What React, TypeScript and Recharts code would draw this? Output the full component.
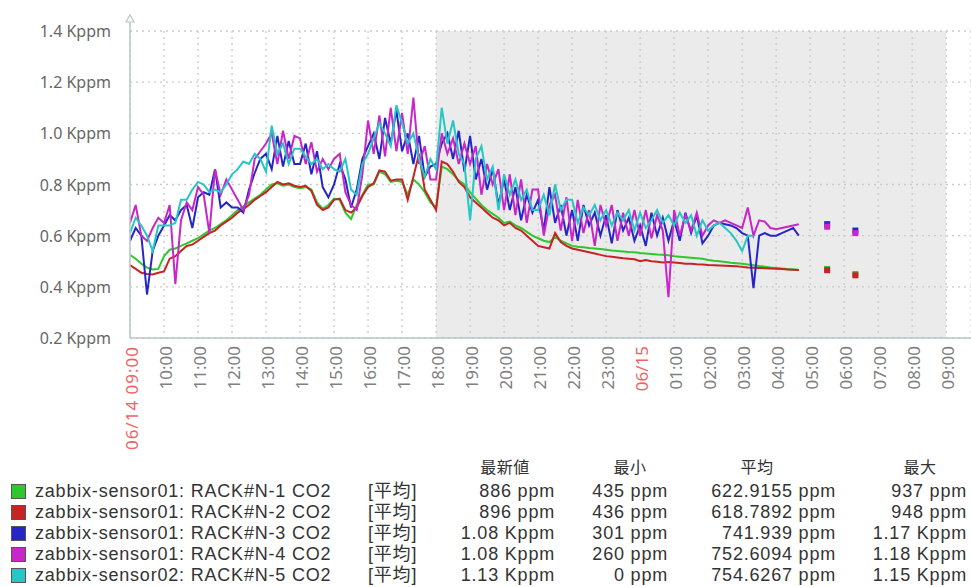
import React from "react";
import { ComposedChart, Line, XAxis, YAxis, CartesianGrid } from "recharts";

// ---- data (ppm), one value every 10 minutes starting 06/14 09:00 ----
const stepHours = 1 / 6;

const n1Green = [
  525, 510, 490, 475, 468, 470,
  520, 545, 550, 560, 570, 580,
  590, 605, 620, 630, 645, 660,
  680, 700, 715, 730, 745, 760,
  780, 800, 805, 795, 800, 790,
  785, 790, 780, 730, 705, 720,
  745, 740, 690, 665, 720, 760,
  800, 800, 850, 840, 810, 815,
  810, 760, 820, 800, 770, 730,
  710, 870, 860, 840, 815, 800,
  770, 745, 720, 700, 685, 670,
  650, 655, 640, 630, 615, 600,
  590, 580, 575, 595, 580, 570,
  560, 557, 555, 552, 550, 548,
  545, 542, 540, 538, 536, 535,
  532, 530, 528, 526, 525, 523,
  520, 518, 516, 514, 512, 510,
  505, 502, 500, 497, 494, 492,
  490, 487, 484, 481, 479, 476,
  474, 472, 470, 468, 466,
];

const n2Red = [
  485, 470, 455, 450, 448, 455,
  460, 510, 520, 540, 560, 565,
  580, 595, 610, 620, 640, 655,
  670, 690, 705, 720, 740, 755,
  770, 790, 810, 800, 805, 795,
  790, 795, 775, 720, 700, 710,
  740, 745, 700, 690, 710, 755,
  790, 805, 855, 850, 815, 820,
  820, 740, 830, 920, 780, 740,
  700, 890, 880, 850, 810, 790,
  750, 730, 710, 690, 670, 660,
  640, 650, 630, 620, 600, 580,
  560, 555, 550, 610, 575, 560,
  550, 545, 540, 535, 530, 525,
  520, 518, 515, 512, 510, 508,
  500, 505, 500, 498, 495, 497,
  495, 493, 490, 490, 488, 487,
  485, 484, 483, 482, 481, 480,
  478, 476, 475, 474, 473, 472,
  471, 470, 468, 467, 466,
];

const n3Blue = [
  580, 630, 600, 370, 540, 600,
  640, 680, 660, 700, 720, 630,
  750, 770, 760, 860, 710, 730,
  710, 710, 690, 780, 845, 900,
  920, 860, 990, 870, 970, 880,
  880, 960, 840, 930, 790, 750,
  800, 880, 820, 710, 780, 900,
  950, 1000, 900, 1060, 960, 1090,
  930, 1000, 880, 990, 830, 870,
  880, 960, 1000, 900, 1010, 850,
  990, 820, 900, 780, 860, 720,
  820, 700, 790, 660, 760, 690,
  740, 620, 790, 650, 720, 600,
  700, 580, 720, 640, 690, 600,
  680, 570, 700, 620, 670, 580,
  640, 560, 690, 600, 670, 580,
  660, 580, 690, 610, 680, 570,
  600, 640, 650, 645, 640, 630,
  610, 600, 395, 600, 610, 600,
  600, 610, 620, 630, 600,
];

const n4Magenta = [
  650, 720, 600, 580, 630, 670,
  650, 720, 410, 660, 730, 700,
  790, 760, 610, 860, 760, 820,
  780, 740, 700, 760, 900, 930,
  960, 1000, 880, 1010, 900, 990,
  980, 880, 965, 850, 900, 860,
  900, 920, 770, 720, 700, 840,
  1050, 920, 1070, 910, 1100, 930,
  1080, 920, 1140, 880, 950, 820,
  820, 1000, 920, 980, 880, 960,
  880, 950, 760, 880, 800, 860,
  700, 840, 680, 820, 650, 780,
  780, 600, 720, 760, 620, 750,
  580, 740, 610, 700, 560, 720,
  640, 720, 580, 690, 600, 700,
  600, 700, 590, 680, 620, 360,
  700, 600, 680, 620, 690, 600,
  640, 660, 650, 660, 650, 640,
  630, 710, 600, 660, 655, 630,
  625, 630, 635, 640, 645,
];

const n5Cyan = [
  610, 670, 640, 600, 540, 640,
  640, 640, 650, 740, 740, 780,
  810, 800, 770, 780, 770, 800,
  840, 860, 890, 880, 920, 900,
  850, 1030, 920, 960, 880, 940,
  940, 910, 880, 900, 860, 880,
  860, 850, 900, 780, 760, 880,
  920, 980, 1040, 1000, 950, 1110,
  1040, 960, 1000, 900, 830, 900,
  860, 1100, 960, 1050, 920, 880,
  660, 900, 950, 820, 870, 700,
  840, 760, 820, 740, 780, 700,
  700, 760, 680, 800, 700, 740,
  740, 650, 710, 680, 720, 660,
  700, 640, 690, 660, 700, 620,
  690, 630, 660, 700, 650, 680,
  640, 690, 650, 680, 600, 660,
  620, 640, 650, 630, 610, 580,
  540, 600, 600,
];

// isolated single samples after the gap
const isoHours = [20.5, 21.33];
const isoGreen = [470, 450];
const isoRed = [465, 445];
const isoBlue = [645, 620];
const isoMagenta = [635, 610];

// ---- axes ----
const xTicks = Array.from({ length: 25 }, (_, i) => i);
const xTickLabels = [
  "06/14 09:00", "10:00", "11:00", "12:00", "13:00", "14:00", "15:00", "16:00",
  "17:00", "18:00", "19:00", "20:00", "21:00", "22:00", "23:00", "06/15",
  "01:00", "02:00", "03:00", "04:00", "05:00", "06:00", "07:00", "08:00", "09:00",
];
const yTicks = [200, 400, 600, 800, 1000, 1200, 1400];
const yTickLabels = ["0.2 Kppm", "0.4 Kppm", "0.6 Kppm", "0.8 Kppm", "1.0 Kppm", "1.2 Kppm", "1.4 Kppm"];

// ---- legend table ----
const seriesNames = [
  "zabbix-sensor01: RACK#N-1 CO2",
  "zabbix-sensor01: RACK#N-2 CO2",
  "zabbix-sensor01: RACK#N-3 CO2",
  "zabbix-sensor01: RACK#N-4 CO2",
  "zabbix-sensor02: RACK#N-5 CO2",
];
const seriesKeys = ["n1", "n2", "n3", "n4", "n5"];
const seriesColors = ["#2DC82D", "#C82222", "#2626C8", "#C826C8", "#26C6C6"];
const legendFunc = "[平均]";
const legendHeaders = ["最新値", "最小", "平均", "最大"];
const lastValues = ["886 ppm", "896 ppm", "1.08 Kppm", "1.08 Kppm", "1.13 Kppm"];
const minValues = ["435 ppm", "436 ppm", "301 ppm", "260 ppm", "0 ppm"];
const avgValues = ["622.9155 ppm", "618.7892 ppm", "741.939 ppm", "752.6094 ppm", "754.6267 ppm"];
const maxValues = ["937 ppm", "948 ppm", "1.17 Kppm", "1.18 Kppm", "1.15 Kppm"];

// ---- build table ----
type Row = { h: number; iso?: boolean; n1: number | null; n2: number | null; n3: number | null; n4: number | null; n5: number | null };
const rows: Row[] = [];
for (let k = 0; k < n1Green.length; k++) {
  rows.push({
    h: k * stepHours,
    n1: n1Green[k] ?? null,
    n2: n2Red[k] ?? null,
    n3: n3Blue[k] ?? null,
    n4: n4Magenta[k] ?? null,
    n5: n5Cyan[k] ?? null,
  });
}
isoHours.forEach((h, i) => {
  rows.push({ h: h - 0.5, n1: null, n2: null, n3: null, n4: null, n5: null });
  rows.push({ h, iso: true, n1: isoGreen[i], n2: isoRed[i], n3: isoBlue[i], n4: isoMagenta[i], n5: null });
});

// stripes between hour grid lines: white during day (09-18), grey at night
const stripeFill = xTicks.map((t) => (t >= 9 && t < 24 ? "#EBEBEB" : "#FFFFFF"));

const FONT = "'Noto Sans', 'Noto Sans CJK JP', sans-serif";
const LEGEND_FONT = "'Liberation Sans', 'Noto Sans CJK JP', sans-serif";

const XTick = (props: any) => {
  const { x, y, payload } = props;
  const idx = xTicks.indexOf(payload.value);
  const label = xTickLabels[idx] ?? "";
  const red = label.includes("/");
  return (
    <text
      x={x + 1}
      y={y}
      transform={`rotate(-90 ${x + 1} ${y})`}
      textAnchor="end"
      dominantBaseline="central"
      fontSize={17}
      letterSpacing={red && label.length > 6 ? 1 : 0}
      fontFamily={FONT}
      fill={red ? "#EE6464" : "#808080"}
    >
      {label}
    </text>
  );
};

const YTick = (props: any) => {
  const { x, y, payload } = props;
  const idx = yTicks.indexOf(payload.value);
  return (
    <text x={x} y={y} textAnchor="end" dominantBaseline="central" fontSize={16} fontFamily={FONT} fill="#666">
      {yTickLabels[idx]}
    </text>
  );
};

const AxisArrow = (props: any) => {
  const vb = props.viewBox || {};
  const ax = (vb.x ?? 0) + (vb.width ?? 0);
  const top = vb.y ?? 0;
  return (
    <g>
      <line x1={ax} y1={top} x2={ax} y2={top - 9} stroke="#B8C4C8" strokeWidth={1.5} />
      <path d={`M ${ax - 4} ${top - 9} L ${ax + 4} ${top - 9} L ${ax} ${top - 16} Z`} fill="#fff" stroke="#B8C4C8" strokeWidth={1.2} />
    </g>
  );
};

const makeDot = (color: string) => (p: any) => {
  const key = `d-${p.dataKey}-${p.index}`;
  if (!p.payload || !p.payload.iso || p.value == null || p.cy == null) return <g key={key} />;
  return <rect key={key} x={p.cx - 3} y={p.cy - 3} width={6} height={6} fill={color} />;
};

const legendRowY = [491, 512, 533, 554, 575];
const headerY = 468;
const LH = 20;

export default function App() {
  return (
    <div style={{ position: "absolute", left: 0, top: 0, width: 971, height: 587, background: "#fff", fontFamily: FONT, overflow: "hidden" }}>
      <ComposedChart
        width={971}
        height={587}
        data={rows}
        margin={{ top: 31, right: 0, bottom: 139, left: 0 }}
      >
        <CartesianGrid
          stroke="#CACACA"
          strokeDasharray="2 4"
          strokeWidth={1.3}
          verticalFill={stripeFill}
          fillOpacity={1}
        />
        <XAxis
          dataKey="h"
          type="number"
          domain={[0, 24.73]}
          ticks={xTicks}
          interval={0}
          tickLine={false}
          axisLine={{ stroke: "#B8C4C8", strokeWidth: 1.5 }}
          height={110}
          tick={<XTick />}
          tickMargin={2}
          allowDataOverflow
        />
        <YAxis
          type="number"
          domain={[200, 1400]}
          ticks={yTicks}
          interval={0}
          width={130}
          tickLine={false}
          axisLine={{ stroke: "#B8C4C8", strokeWidth: 1.5 }}
          tickSize={6}
          tickMargin={13}
          tick={<YTick />}
          label={{ content: <AxisArrow /> }}
          allowDataOverflow
        />
        {seriesKeys.map((k, i) => (
          <Line
            key={k}
            dataKey={k}
            type="linear"
            stroke={seriesColors[i]}
            strokeWidth={2}
            dot={makeDot(seriesColors[i])}
            activeDot={false}
            connectNulls={false}
            isAnimationActive={false}
          />
        ))}
      </ComposedChart>

      {/* legend table */}
      <div style={{ position: "absolute", left: 0, top: 0, width: 971, height: 587, pointerEvents: "none", color: "#333", fontFamily: LEGEND_FONT, fontSize: 18, letterSpacing: 0.8 }}>
        {legendHeaders.map((h, i) => {
          const cx = [505, 630, 757, 920][i];
          return (
            <div key={h} style={{ position: "absolute", left: cx - 40, width: 80, top: headerY - 10, textAlign: "center", lineHeight: `${LH}px`, fontSize: 16, letterSpacing: 0.5 }}>
              {h}
            </div>
          );
        })}
        {seriesNames.map((name, i) => {
          const y = legendRowY[i];
          const cell = (txt: string, right: number, key: string) => (
            <div key={key} style={{ position: "absolute", right: 971 - right, top: y - LH / 2, lineHeight: `${LH}px`, whiteSpace: "nowrap" }}>
              {txt}
            </div>
          );
          return (
            <React.Fragment key={name}>
              <div style={{ position: "absolute", left: 11, top: y - 7, width: 13, height: 13, background: seriesColors[i], border: "1px solid #555" }} />
              <div style={{ position: "absolute", left: 35, top: y - LH / 2, lineHeight: `${LH}px`, whiteSpace: "nowrap" }}>{name}</div>
              <div style={{ position: "absolute", left: 368, top: y - LH / 2, lineHeight: `${LH}px`, whiteSpace: "nowrap" }}>{legendFunc}</div>
              {cell(lastValues[i], 555, "l")}
              {cell(minValues[i], 668, "m")}
              {cell(avgValues[i], 836, "a")}
              {cell(maxValues[i], 967, "x")}
            </React.Fragment>
          );
        })}
      </div>
    </div>
  );
}
